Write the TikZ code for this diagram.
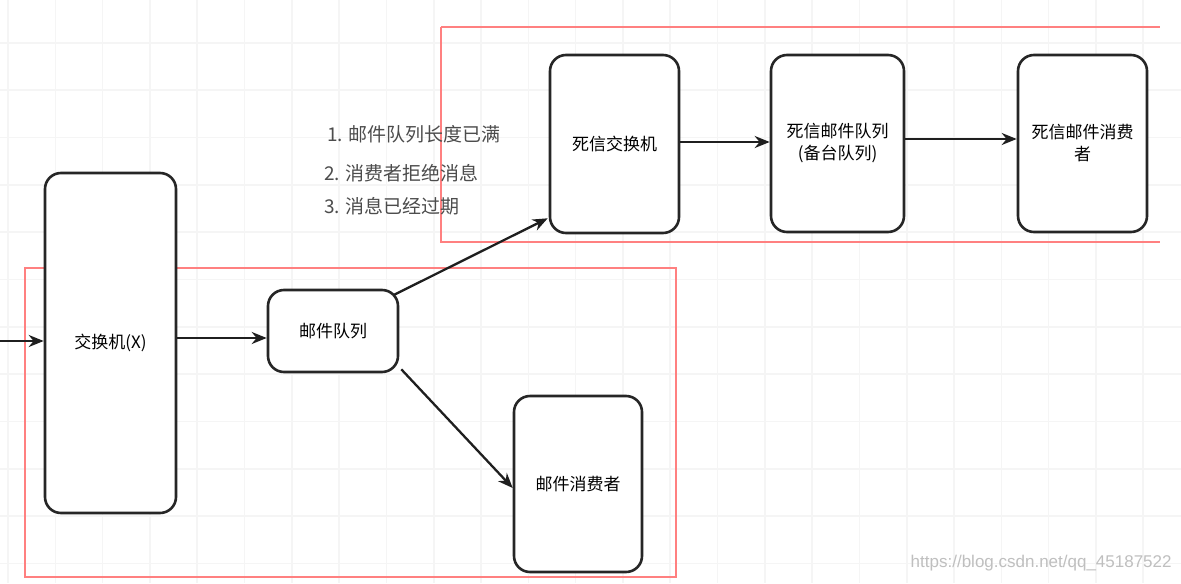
\documentclass[tikz,border=0pt]{standalone}
\usepackage{fontspec}
\newfontfamily\cjk{Noto Sans CJK SC}
\newfontfamily\wm{Liberation Sans}
\usetikzlibrary{arrows.meta,calc}
\tikzset{
  box/.style={draw=black!85, line width=1.3pt, rounded corners=8pt, fill=white, align=center,
    font=\cjk\fontsize{8.5}{11}\selectfont, inner sep=0pt},
  conn/.style={line width=1.15pt, black!88, -{Stealth[length=7.5pt,width=6pt]}},
  region/.style={draw=red!50, line width=0.6pt},
  note/.style={font=\cjk\fontsize{9.5}{11}\selectfont, text=black!70, anchor=west, inner sep=0pt},
  gridline/.style={draw=black!4, line width=0.8pt}
}
\begin{document}
\begin{tikzpicture}[x=0.5pt,y=-0.5pt]
\useasboundingbox (0,0) rectangle (1181,583);
\fill[white] (0,0) rectangle (1181,583);
% faint grid
\foreach \i in {0,...,24} { \draw[gridline] ({8+47.3*\i},0) -- ({8+47.3*\i},583); }
\foreach \j in {0,...,12} { \draw[gridline] (0,{43+47.3*\j}) -- (1181,{43+47.3*\j}); }
% regions
\draw[region] (25,268) rectangle (676,577);
\draw[region] (441,27) -- (1160,27);
\draw[region] (441,27) -- (441,242) -- (1160,242);
% nodes
\node[box, minimum width=65.5pt, minimum height=170pt] (x) at (110.5,343) {交换机(X)};
\node[box, minimum width=65pt, minimum height=41pt] (q) at (333,331) {邮件队列};
\node[box, minimum width=64pt, minimum height=88pt] (c) at (578,484) {邮件消费者};
\node[box, minimum width=64.5pt, minimum height=89pt] (dx) at (614.5,144) {死信交换机};
\node[box, minimum width=66.5pt, minimum height=88.5pt] (dq) at (837.5,143.5) {死信邮件队列\\(备台队列)};
\node[box, minimum width=64.5pt, minimum height=88.5pt] (dc) at (1082.5,143.5) {死信邮件消费\\者};
\coordinate (in) at (0,341);
% notes
\node[note] (n1) at (327,134) {1. 邮件队列长度已满};
\node[note] (n2) at (324,173) {2. 消费者拒绝消息};
\node[note] (n3) at (324,206) {3. 消息已经过期};
% connectors
\draw[conn] (in) -- (x.west |- in);
\draw[conn] (x.east |- 0,338) -- (q.west |- 0,338);
\draw[conn] ($(q.north east)+(-5,6)$) -- ($(dx.south west)+(-1,-16)$);
\draw[conn] ($(q.south east)+(2,-4)$) -- (c.west |- 0,488);
\draw[conn] (dx.east |- 0,142) -- (dq.west |- 0,142);
\draw[conn] (dq.east |- 0,139) -- (dc.west |- 0,139);
% watermark
\node[font=\wm\fontsize{8.5}{10}\selectfont, text=black!25, anchor=east, inner sep=0pt] (wm) at (1172,563) {https://blog.csdn.net/qq\_45187522};
\end{tikzpicture}
\end{document}
